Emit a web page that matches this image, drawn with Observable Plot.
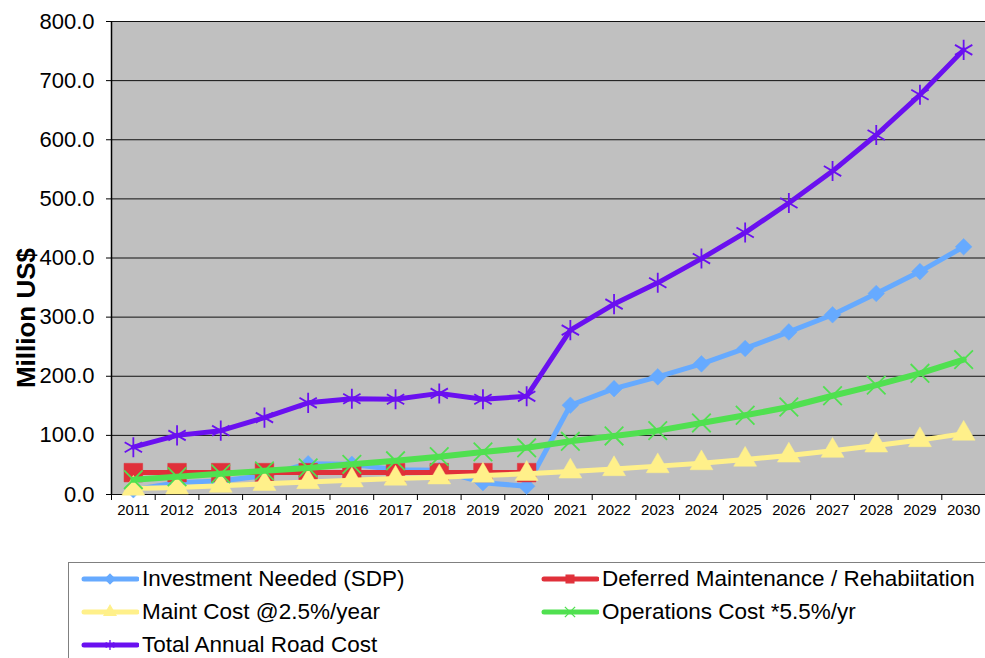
<!DOCTYPE html>
<html><head><meta charset="utf-8">
<script src="https://cdn.jsdelivr.net/npm/d3@7"></script>
<script src="https://cdn.jsdelivr.net/npm/@observablehq/plot@0.6"></script>
<style>
body{margin:0;background:#fff;font-family:Arial,"Liberation Sans",sans-serif;}
#wrap{position:relative;width:985px;height:658px;overflow:hidden;}
#ylabel{position:absolute;left:26px;top:318px;transform:translate(-50%,-50%) rotate(-90deg);font-weight:bold;font-size:26px;white-space:nowrap;color:#000;}
#legend{position:absolute;left:68px;top:562px;width:940px;height:120px;border:1px solid #808080;box-sizing:border-box;}
.item{position:absolute;display:flex;align-items:center;font-size:22.5px;white-space:nowrap;color:#000;transform:translateY(-50%);}
.item svg{margin-right:3px;}
</style></head>
<body><div id="wrap"><div id="chart"></div><div id="ylabel">Million US$</div><div id="legend"></div></div>
<script>
const years = [2011,2012,2013,2014,2015,2016,2017,2018,2019,2020,2021,2022,2023,2024,2025,2026,2027,2028,2029,2030];
const yTicks = [0,100,200,300,400,500,600,700,800];
const seriesNames = ["Investment Needed (SDP)","Deferred Maintenance / Rehabiitation","Maint Cost @2.5%/year","Operations Cost *5.5%/yr","Total Annual Road Cost"];
const investment = [8,20,23,32,52,51,42,41,20,14,151,179,199,221,247,275,304,340,377,419];
const deferred = [37,37,37,37,37,37,37,37,37,37];
const maint = [10,12,15,18,21,24,27,29,32,35,39,43,48,53,59,66,74,83,92,103];
const operations = [25,30,35,40,45,51,57,64,72,79,90,99,108,121,134,148,167,185,205,228];
const total = [80,100,108,130,155,162,161,171,161,166,278,322,358,399,443,493,547,608,676,752];

const colors = ["#66aaff","#e0303a","#fff08a","#50e050","#6a10f0"];
const symbols = ["diamond2","square","triangle","times","asterisk"];
const d3symbols = [d3.symbolDiamond2,d3.symbolSquare,d3.symbolTriangle,d3.symbolTimes,d3.symbolAsterisk];
const lineWidths = [5,5,5,6,5];
const markerR = [7.5,10.5,8.5,8.5,9.5];
const filled = [true,true,true,false,false];
const values = [investment,deferred,maint,operations,total];

const marks = [
  Plot.frame({fill:"#c0c0c0"}),
  Plot.ruleY(yTicks,{stroke:"#111",strokeWidth:1}),
  Plot.ruleX([2010.5],{stroke:"#000",strokeWidth:1.5}),
  Plot.axisY({ticks:yTicks,tickFormat:d=>d.toFixed(1),tickSize:5,tickPadding:12,fontSize:22,label:null,stroke:"#000"}),
  Plot.axisX({ticks:years,tickFormat:d=>String(d),tickSize:0,tickPadding:10,fontSize:15,label:null}),
  Plot.axisX({ticks:years.map(y=>y-0.5).concat([years[years.length-1]+0.5]),tickFormat:()=>"",tickSize:6,label:null,stroke:"#000"})
];
values.forEach((vals,k)=>{
  const data = vals.map((v,i)=>({year:years[i],v}));
  marks.push(Plot.line(data,{x:"year",y:"v",stroke:colors[k],strokeWidth:lineWidths[k],strokeLinejoin:"round"}));
  marks.push(Plot.dot(data,{x:"year",y:"v",symbol:()=>symbols[k],r:markerR[k],
    fill: filled[k]?colors[k]:"none", stroke: colors[k], strokeWidth: filled[k]?0.5:1.8}));
});

const chart = Plot.plot({
  width:985,height:530,marginLeft:111,marginRight:0,marginTop:21,marginBottom:36,
  style:{fontFamily:"Arial, 'Liberation Sans', sans-serif",overflow:"visible",color:"#000",background:"#fff"},
  x:{type:"linear",domain:[2010.5,2030.5]},
  y:{domain:[0,800]},
  symbol:{type:"identity"},
  marks
});
document.getElementById("chart").appendChild(chart);

// legend
const legend = document.getElementById("legend");
const pos = [[12,16],[472,16],[12,49],[472,49],[12,82]];
seriesNames.forEach((name,k)=>{
  const div = document.createElement("div");
  div.className="item";
  div.style.left = pos[k][0]+"px";
  div.style.top = pos[k][1]+"px";
  const svg = d3.create("svg").attr("width",58).attr("height",20);
  svg.append("line").attr("x1",3).attr("x2",56).attr("y1",10).attr("y2",10)
    .attr("stroke",colors[k]).attr("stroke-width",5).attr("stroke-linecap","round");
  svg.append("path").attr("transform","translate(29,10)")
    .attr("d",d3.symbol(d3symbols[k],k<3?60:70)())
    .attr("fill",filled[k]?colors[k]:"none").attr("stroke",colors[k]).attr("stroke-width",1.3);
  div.appendChild(svg.node());
  const span = document.createElement("span");
  span.textContent = name;
  div.appendChild(span);
  legend.appendChild(div);
});
</script>
</body></html>
